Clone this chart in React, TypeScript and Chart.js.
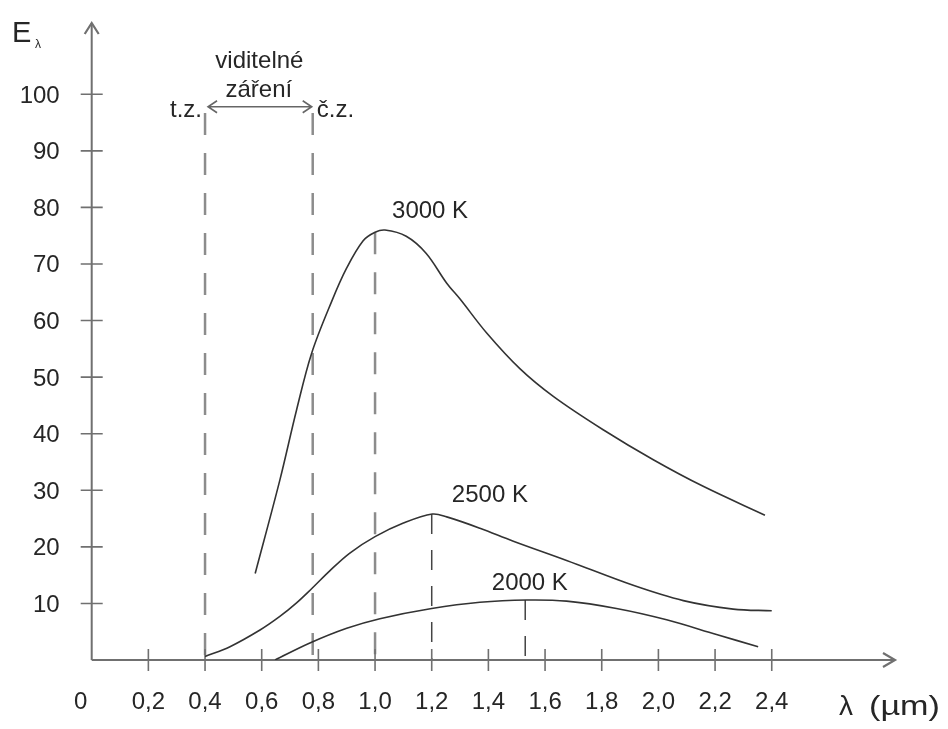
import React, { useEffect, useRef } from "react";
import { Chart, registerables } from "chart.js";
Chart.register(...registerables);

// axis ranges
const xMax = 2.835;
const yMax = 112.6;

// ticks
const xTicks = [0, 0.2, 0.4, 0.6, 0.8, 1.0, 1.2, 1.4, 1.6, 1.8, 2.0, 2.2, 2.4];
const xTickLabels = ["0", "0,2", "0,4", "0,6", "0,8", "1,0", "1,2", "1,4", "1,6", "1,8", "2,0", "2,2", "2,4"];
const yTicks = [10, 20, 30, 40, 50, 60, 70, 80, 90, 100];
const yTickLabels = ["10", "20", "30", "40", "50", "60", "70", "80", "90", "100"];

// curves (λ in µm, E in relative units)
const x3000 = [0.577, 0.664, 0.723, 0.776, 0.847, 0.9, 0.958, 1.0, 1.035, 1.11, 1.18, 1.253, 1.3, 1.394, 1.511, 1.629, 1.805, 1.982, 2.158, 2.376];
const y3000 = [15.3, 31.8, 44.2, 54.2, 63.4, 69.3, 74.1, 75.6, 76.0, 74.9, 71.9, 66.6, 63.8, 57.8, 51.5, 46.6, 40.7, 35.4, 30.7, 25.6];
const x2500 = [0.4, 0.488, 0.594, 0.664, 0.723, 0.776, 0.841, 0.911, 1.0, 1.1, 1.202, 1.253, 1.37, 1.488, 1.676, 1.911, 2.088, 2.264, 2.4];
const y2500 = [0.6, 2.35, 5.3, 7.7, 10.1, 12.6, 15.8, 18.9, 21.8, 24.2, 25.8, 25.3, 23.3, 21.0, 17.6, 13.2, 10.5, 9.0, 8.7];
const x2000 = [0.647, 0.77, 0.9, 1.017, 1.2, 1.37, 1.535, 1.676, 1.852, 2.029, 2.205, 2.352];
const y2000 = [0.0, 3.0, 5.6, 7.3, 9.1, 10.2, 10.6, 10.4, 9.1, 7.1, 4.5, 2.35];

// visible range boundaries and peak markers
const visibleEdges = [0.4, 0.78];
const visibleTop = 96.7;
const arrowLevel = 97.8;
const peakX = [1.0, 1.2, 1.53];
const peakY = [75.6, 25.8, 10.6];

const curveLabels = ["3000 K", "2500 K", "2000 K"];
const curveLabelX = [1.06, 1.271, 1.412];
const curveLabelY = [78.2, 27.9, 12.4];

const FONT = "'Liberation Sans', Arial, sans-serif";
const TEXT = "#262626";
const AXIS = "#707070";

const toPts = (xs: number[], ys: number[]) => xs.map((v, i) => ({ x: v, y: ys[i] }));

const overlay = {
  id: "overlay",
  beforeDatasetsDraw(chart: any) {
    const { ctx, scales } = chart;
    const X = (v: number) => scales.x.getPixelForValue(v);
    const Y = (v: number) => scales.y.getPixelForValue(v);
    ctx.save();
    // dashed vertical lines: visible boundaries
    ctx.strokeStyle = "#8c8c8c";
    ctx.lineWidth = 2.5;
    ctx.setLineDash([22, 18]);
    visibleEdges.forEach((v) => {
      ctx.beginPath();
      ctx.moveTo(X(v), Y(visibleTop));
      ctx.lineTo(X(v), Y(0));
      ctx.stroke();
    });
    // peak markers
    peakX.forEach((v, i) => {
      ctx.strokeStyle = i === 0 ? "#8c8c8c" : "#444";
      ctx.lineWidth = i === 0 ? 2.5 : 1.5;
      ctx.setLineDash(i === 0 ? [22, 18] : [20, 16]);
      ctx.beginPath();
      ctx.moveTo(X(v), Y(peakY[i]));
      ctx.lineTo(X(v), Y(0));
      ctx.stroke();
    });
    ctx.setLineDash([]);

    // axes
    ctx.strokeStyle = AXIS;
    ctx.lineWidth = 2;
    const x0 = X(0), y0 = Y(0), yt = Y(yMax), xr = X(xMax);
    ctx.beginPath();
    ctx.moveTo(x0, y0);
    ctx.lineTo(x0, yt);
    ctx.moveTo(x0, y0);
    ctx.lineTo(xr, y0);
    ctx.stroke();
    // arrow heads
    ctx.lineWidth = 2.2;
    ctx.beginPath();
    ctx.moveTo(x0 - 7, yt + 11);
    ctx.lineTo(x0, yt);
    ctx.lineTo(x0 + 7, yt + 11);
    ctx.moveTo(xr - 12, y0 - 7);
    ctx.lineTo(xr, y0);
    ctx.lineTo(xr - 12, y0 + 7);
    ctx.stroke();
    // ticks
    ctx.lineWidth = 1.6;
    ctx.beginPath();
    xTicks.forEach((v) => {
      if (v === 0) return;
      ctx.moveTo(X(v), y0 - 11);
      ctx.lineTo(X(v), y0 + 11);
    });
    yTicks.forEach((v) => {
      ctx.moveTo(x0 - 11, Y(v));
      ctx.lineTo(x0 + 11, Y(v));
    });
    ctx.stroke();

    // double arrow for visible range
    const ay = Y(arrowLevel);
    const a1 = X(visibleEdges[0]) + 3, a2 = X(visibleEdges[1]) - 1;
    ctx.strokeStyle = "#666";
    ctx.lineWidth = 1.6;
    ctx.beginPath();
    ctx.moveTo(a1, ay);
    ctx.lineTo(a2, ay);
    ctx.moveTo(a1 + 9, ay - 6);
    ctx.lineTo(a1, ay);
    ctx.lineTo(a1 + 9, ay + 6);
    ctx.moveTo(a2 - 9, ay - 6);
    ctx.lineTo(a2, ay);
    ctx.lineTo(a2 - 9, ay + 6);
    ctx.stroke();
    ctx.restore();
  },
  afterDatasetsDraw(chart: any) {
    const { ctx, scales } = chart;
    const X = (v: number) => scales.x.getPixelForValue(v);
    const Y = (v: number) => scales.y.getPixelForValue(v);
    const x0 = X(0), y0 = Y(0);
    ctx.save();
    ctx.fillStyle = TEXT;
    ctx.textBaseline = "alphabetic";
    ctx.font = `24px ${FONT}`;
    // x tick labels
    ctx.textAlign = "center";
    xTicks.forEach((v, i) => {
      const px = v === 0 ? X(v) - 11 : X(v);
      ctx.fillText(xTickLabels[i], px, y0 + 49);
    });
    // y tick labels
    ctx.textAlign = "right";
    yTicks.forEach((v, i) => {
      ctx.fillText(yTickLabels[i], x0 - 32, Y(v) + 8.5);
    });
    // curve labels
    ctx.textAlign = "left";
    curveLabels.forEach((t, i) => {
      ctx.fillText(t, X(curveLabelX[i]), Y(curveLabelY[i]));
    });
    // visible radiation labels
    const e1 = X(visibleEdges[0]), e2 = X(visibleEdges[1]);
    const ay = Y(arrowLevel);
    ctx.textAlign = "center";
    ctx.fillText("viditelné", (e1 + e2) / 2 + 0.5, ay - 39);
    ctx.fillText("záření", (e1 + e2) / 2, ay - 10);
    ctx.textAlign = "right";
    ctx.fillText("t.z.", e1 - 3, ay + 10);
    ctx.textAlign = "left";
    ctx.fillText("č.z.", e2 + 4, ay + 10);
    // axis titles
    ctx.font = `29px ${FONT}`;
    ctx.textAlign = "left";
    ctx.fillText("E", 12, 42);
    ctx.font = `12px ${FONT}`;
    ctx.fillText("λ", 35, 48);
    ctx.font = `28px ${FONT}`;
    ctx.fillText("λ", 839, 715);
    ctx.save();
    ctx.translate(869, 715);
    ctx.scale(1.22, 1);
    ctx.fillText("(µm)", 0, 0);
    ctx.restore();
    ctx.restore();
  },
};

export default function App() {
  const ref = useRef<HTMLCanvasElement | null>(null);
  useEffect(() => {
    if (!ref.current) return;
    const mk = (xs: number[], ys: number[], label: string) => ({
      label,
      data: toPts(xs, ys),
      borderColor: "#333",
      borderWidth: 1.6,
      pointRadius: 0,
      fill: false,
      tension: 0.35,
    });
    const chart = new Chart(ref.current, {
      type: "line",
      data: {
        datasets: [mk(x3000, y3000, "3000 K"), mk(x2500, y2500, "2500 K"), mk(x2000, y2000, "2000 K")],
      },
      options: {
        responsive: false,
        animation: false,
        events: [],
        layout: { padding: { left: 91.7, right: 53, top: 23, bottom: 69 } },
        plugins: { legend: { display: false }, tooltip: { enabled: false } },
        scales: {
          x: { type: "linear", min: 0, max: xMax, display: false },
          y: { type: "linear", min: 0, max: yMax, display: false },
        },
      },
      plugins: [overlay],
    });
    return () => chart.destroy();
  }, []);
  return (
    <div style={{ position: "absolute", left: 0, top: 0, width: 948, height: 729, background: "#fff" }}>
      <canvas ref={ref} width={948} height={729} style={{ display: "block" }} />
    </div>
  );
}
